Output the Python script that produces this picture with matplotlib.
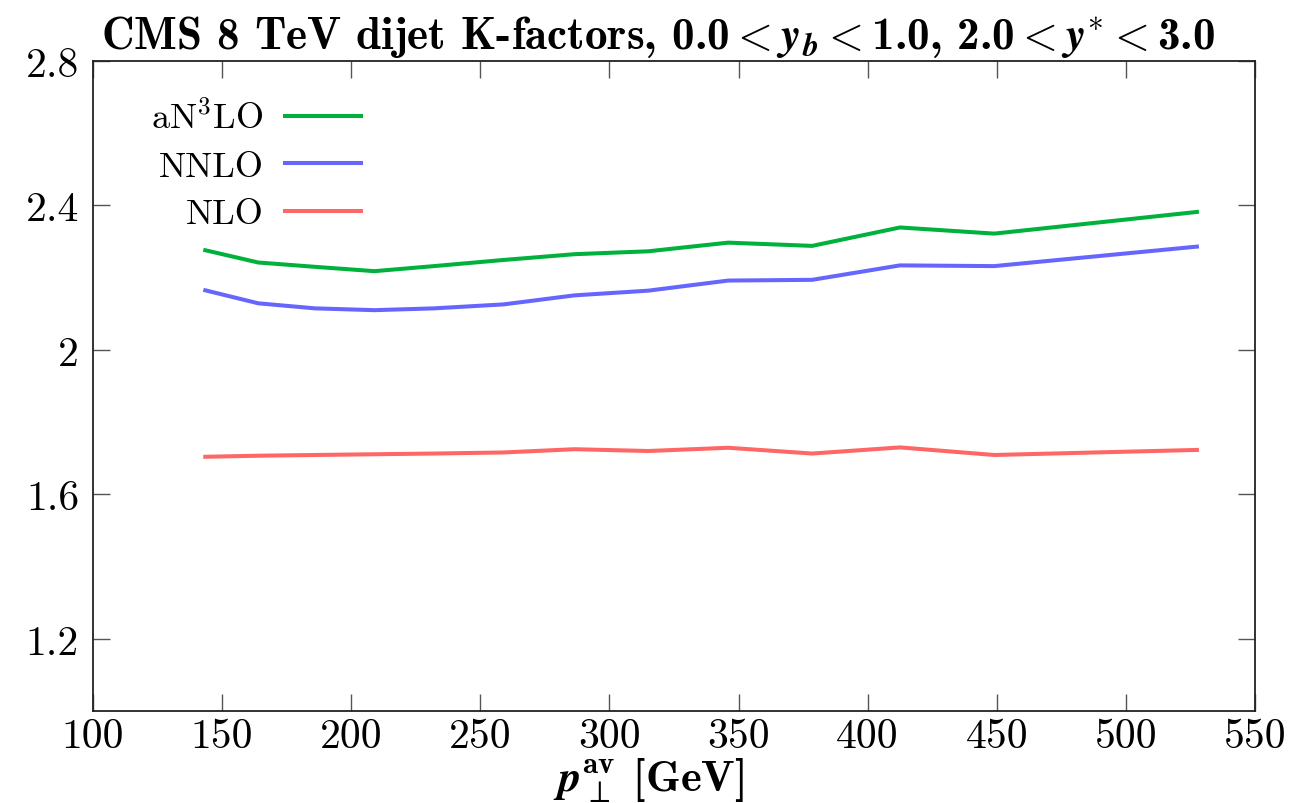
import matplotlib
matplotlib.use("Agg")
import matplotlib.pyplot as plt
from matplotlib.ticker import FixedLocator, FixedFormatter

plt.rcParams['font.family'] = ['cmr10']
plt.rcParams['mathtext.fontset'] = 'cm'
plt.rcParams['axes.formatter.use_mathtext'] = True

# ---- data ----
pt_av = [143.5, 164, 186, 209, 232, 259, 286.5, 315, 346, 378.5, 412.5, 449, 527.5]
k_an3lo = [2.276, 2.242, 2.230, 2.218, 2.232, 2.249, 2.265, 2.273, 2.297, 2.288, 2.339, 2.322, 2.382]
k_nnlo = [2.165, 2.129, 2.115, 2.110, 2.115, 2.126, 2.151, 2.164, 2.192, 2.194, 2.234, 2.232, 2.286]
k_nlo = [1.704, 1.707, 1.709, 1.711, 1.713, 1.716, 1.725, 1.720, 1.729, 1.713, 1.730, 1.709, 1.723]
series_labels = ['aN$^3$LO', 'NNLO', 'NLO']
xticks = [100, 150, 200, 250, 300, 350, 400, 450, 500, 550]
xtick_labels = ['100', '150', '200', '250', '300', '350', '400', '450', '500', '550']
yticks = [1.2, 1.6, 2.0, 2.4, 2.8]
ytick_labels = ['1.2', '1.6', '2', '2.4', '2.8']

colors = ['#00b23c', '#6666ff', '#ff6666']

fig = plt.figure(figsize=(13.11, 8.04), dpi=100)
ax = fig.add_axes([0.0709, 0.1144, 0.8864, 0.8085])

for y, lab, c in zip([k_an3lo, k_nnlo, k_nlo], series_labels, colors):
    ax.plot(pt_av, y, color=c, lw=2.9, label=lab, solid_joinstyle='miter')

ax.set_xlim(100, 550)
ax.set_ylim(1.0, 2.8)
ax.xaxis.set_major_locator(FixedLocator(xticks))
ax.xaxis.set_major_formatter(FixedFormatter(xtick_labels))
ax.yaxis.set_major_locator(FixedLocator(yticks))
ax.yaxis.set_major_formatter(FixedFormatter(ytick_labels))
ax.tick_params(axis='both', which='major', direction='in', length=12, width=1.0,
               color='#555555', top=True, right=True, labelsize=30, pad=10)
ax.tick_params(axis='x', pad=5)
for s in ax.spines.values():
    s.set_linewidth(1.3)
    s.set_color('#222222')

ax.set_title(r'CMS 8 TeV dijet K-factors, 0.0$<\boldsymbol{y}_{\boldsymbol{b}}<$1.0, '
             r'2.0$<\boldsymbol{y}^{*}<$3.0',
             fontfamily='cmb10', fontsize=32.5, pad=9, x=0.486)
ax.set_xlabel(r'$\boldsymbol{p}_{\perp}^{\mathbf{av}}$ [GeV]', fontfamily='cmb10',
              fontsize=32)
ax.xaxis.set_label_coords(0.478, -0.069)

leg = ax.legend(loc='upper left', bbox_to_anchor=(0.05, 0.94), markerfirst=False,
                frameon=False, fontsize=26, handlelength=2.1, handletextpad=0.6,
                labelspacing=0.42, borderaxespad=0, borderpad=0)

fig.savefig('out.png', dpi=100)
